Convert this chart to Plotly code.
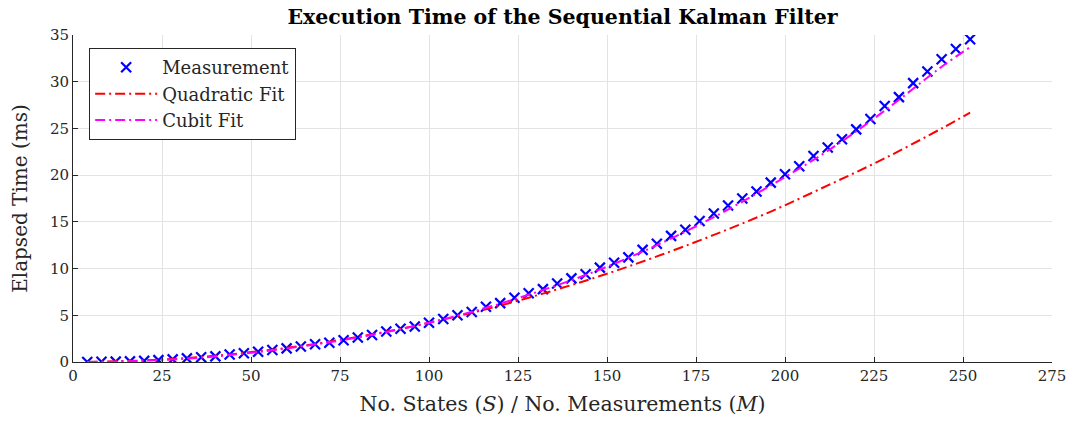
import plotly.graph_objects as go

# Measurements
states = [4, 8, 12, 16, 20, 24, 28, 32, 36, 40, 44, 48, 52, 56, 60, 64, 68, 72, 76, 80,
          84, 88, 92, 96, 100, 104, 108, 112, 116, 120, 124, 128, 132, 136, 140, 144, 148,
          152, 156, 160, 164, 168, 172, 176, 180, 184, 188, 192, 196, 200, 204, 208, 212,
          216, 220, 224, 228, 232, 236, 240, 244, 248, 252]
elapsed_ms = [0.01, 0.02, 0.04, 0.07, 0.12, 0.2, 0.28, 0.39, 0.5, 0.6, 0.8, 0.93, 1.1, 1.28,
              1.46, 1.66, 1.9, 2.06, 2.33, 2.62, 2.88, 3.27, 3.55, 3.8, 4.2, 4.6, 5.0, 5.35,
              5.92, 6.3, 6.88, 7.35, 7.8, 8.4, 8.95, 9.4, 10.1, 10.62, 11.2, 12.0, 12.65,
              13.5, 14.15, 15.1, 15.9, 16.75, 17.5, 18.25, 19.2, 20.1, 20.95, 22.05, 22.95,
              23.85, 24.9, 26.0, 27.4, 28.35, 29.85, 31.1, 32.4, 33.5, 34.55]

# Fit curves
fit_states = [4, 20, 36, 52, 68, 84, 100, 116, 132, 148, 164, 180, 196, 212, 228, 244, 252]
quadratic_fit = [0.01, 0.17, 0.54, 1.14, 1.94, 2.96, 4.2, 5.65, 7.32, 9.2, 11.3, 13.6,
                 16.1, 18.9, 21.8, 25.0, 26.7]
cubic_fit = [0.0, 0.14, 0.47, 1.07, 1.88, 2.9, 4.2, 5.8, 7.7, 9.9, 12.5, 15.5, 18.9,
             22.6, 26.9, 31.6, 33.7]

x_ticks = [0, 25, 50, 75, 100, 125, 150, 175, 200, 225, 250, 275]
y_ticks = [0, 5, 10, 15, 20, 25, 30, 35]

FONT = "DejaVu Serif"
TXT = "#262626"

fig = go.Figure()
fig.add_trace(go.Scatter(
    x=states, y=elapsed_ms, mode="markers", name="Measurement",
    marker=dict(symbol="x-thin", size=10, color="blue", line=dict(width=2.2, color="blue")),
))
fig.add_trace(go.Scatter(
    x=fit_states, y=quadratic_fit, mode="lines", name="Quadratic Fit",
    line=dict(color="red", width=2, dash="10px,4px,2px,4px", shape="spline"),
))
fig.add_trace(go.Scatter(
    x=fit_states, y=cubic_fit, mode="lines", name="Cubit Fit",
    line=dict(color="magenta", width=2, dash="10px,4px,2px,4px", shape="spline"),
))

fig.update_layout(
    width=1078, height=430,
    margin=dict(l=73, r=18, t=35, b=68),
    paper_bgcolor="white", plot_bgcolor="white",
    font=dict(family=FONT, size=18, color=TXT),
    title=dict(text="<b>Execution Time of the Sequential Kalman Filter</b>",
               xref="paper", x=0.5, xanchor="center",
               yref="container", y=0.962, yanchor="middle",
               font=dict(family=FONT, size=20.5, color="black")),
    legend=dict(x=0.0165, y=0.96, xanchor="left", yanchor="top",
                bgcolor="white", bordercolor=TXT, borderwidth=1,
                font=dict(family=FONT, size=18, color=TXT),
                itemwidth=62, tracegroupgap=0),
    showlegend=True,
)
fig.update_xaxes(
    range=[0, 275], tickvals=x_ticks, ticktext=[str(v) for v in x_ticks],
    showgrid=True, gridcolor="#e3e3e3", gridwidth=1,
    showline=True, linecolor=TXT, linewidth=1,
    ticks="inside", ticklen=5, tickcolor=TXT,
    tickfont=dict(family=FONT, size=15, color=TXT),
    zeroline=False,
    title=dict(text="No. States (<i>S</i>) / No. Measurements (<i>M</i>)",
               font=dict(family=FONT, size=20.5, color=TXT), standoff=12),
)
fig.update_yaxes(
    range=[0, 35], tickvals=y_ticks, ticktext=[str(v) for v in y_ticks],
    showgrid=True, gridcolor="#e3e3e3", gridwidth=1,
    showline=True, linecolor=TXT, linewidth=1,
    ticks="inside", ticklen=5, tickcolor=TXT,
    tickfont=dict(family=FONT, size=15, color=TXT),
    zeroline=False,
    title=dict(text="Elapsed Time (ms)",
               font=dict(family=FONT, size=20, color=TXT), standoff=16),
)

fig.write_html("out.html")
